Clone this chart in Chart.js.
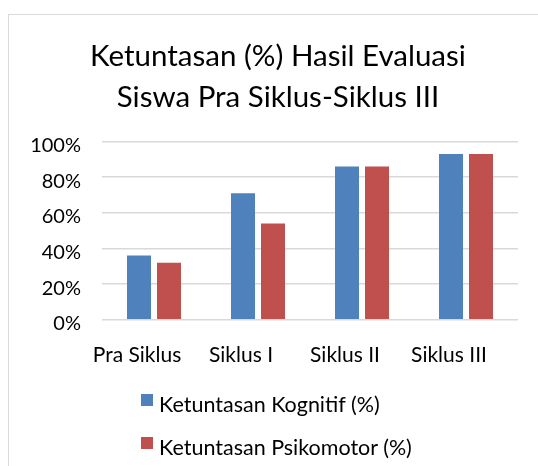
<!DOCTYPE html>
<html>
<head>
<meta charset="utf-8">
<script src="https://cdn.jsdelivr.net/npm/chart.js@4/dist/chart.umd.min.js"></script>
<style>
  html, body { margin: 0; padding: 0; background: #fff; overflow: hidden; }
  #wrap { position: relative; width: 538px; height: 466px; }
  #frame { position: absolute; left: 8px; top: 14px; width: 600px; height: 600px; border: 1px solid #d9d9d9; box-sizing: border-box; }
  canvas { position: absolute; left: 0; top: 0; }
  #legend { position: absolute; left: 141px; top: 394px; font-family: Lato, sans-serif; font-size: 21.5px; color: #000; }
  #legend div { height: 42.5px; position: relative; padding-left: 18px; line-height: 21px; white-space: nowrap; }
  #legend span { position: absolute; left: 0; top: 0; width: 12px; height: 12px; }
</style>
</head>
<body>
<div id="wrap">
  <div id="frame"></div>
  <canvas id="ctx1" width="538" height="466"></canvas>
  <div id="legend"></div>
</div>
<script>
const labels = ['Pra Siklus', 'Siklus I', 'Siklus II', 'Siklus III'];
const kognitif = [36, 71, 86, 93];
const psikomotor = [32, 54, 86, 93];
const seriesNames = ['Ketuntasan Kognitif (%)', 'Ketuntasan Psikomotor (%)'];
const colors = ['#4F81BD', '#C0504D'];
const titleLines = ['Ketuntasan (%) Hasil Evaluasi', 'Siswa Pra Siklus-Siklus III'];

// the title sits a bit right of the layout centre in the original
const titleShift = {
    id: 'titleShift',
    afterLayout(chart) {
        chart.titleBlock.left += 5;
        chart.titleBlock.right += 5;
    }
};

const ctx = document.getElementById('ctx1');
const chart = new Chart(ctx, {
    type: 'bar',
    data: {
        labels,
        datasets: [
            { label: seriesNames[0], data: kognitif, backgroundColor: colors[0] },
            { label: seriesNames[1], data: psikomotor, backgroundColor: colors[1] }
        ]
    },
    options: {
        responsive: false,
        animation: false,
        devicePixelRatio: 1,
        categoryPercentage: 0.577,
        barPercentage: 0.8,
        layout: { padding: { left: 28, right: 20, top: 0, bottom: 84 } },
        plugins: {
            legend: { display: false },
            tooltip: { enabled: false },
            title: {
                display: true,
                text: titleLines,
                color: '#000',
                font: { family: 'Lato', size: 29.5, weight: 'normal', lineHeight: 1.39 },
                padding: { top: 35.5, bottom: 24 }
            }
        },
        scales: {
            x: {
                grid: { display: false },
                border: { display: false },
                ticks: { color: '#000', font: { family: 'Lato', size: 21 }, padding: 14.5, labelOffset: -17, maxRotation: 0 },
                // labels may hang past the plot edge, like the original
                afterFit: s => { s.paddingLeft = 0; s.paddingRight = 0; }
            },
            y: {
                min: 0,
                max: 100,
                border: { display: false },
                grid: { color: '#d9d9d9', lineWidth: 1.5, drawTicks: false },
                ticks: {
                    stepSize: 20,
                    color: '#000',
                    font: { family: 'Lato', size: 20 },
                    padding: 21,
                    labelOffset: 4,
                    callback: v => v + '%'
                },
                afterFit: s => { s.width = 74; }
            }
        }
    },
    plugins: [titleShift]
});

// legend built from the datasets
const legendBox = document.getElementById('legend');
chart.data.datasets.forEach(ds => {
    const row = document.createElement('div');
    const sw = document.createElement('span');
    sw.style.background = ds.backgroundColor;
    row.appendChild(sw);
    row.appendChild(document.createTextNode(ds.label));
    legendBox.appendChild(row);
});
</script>
</body>
</html>
